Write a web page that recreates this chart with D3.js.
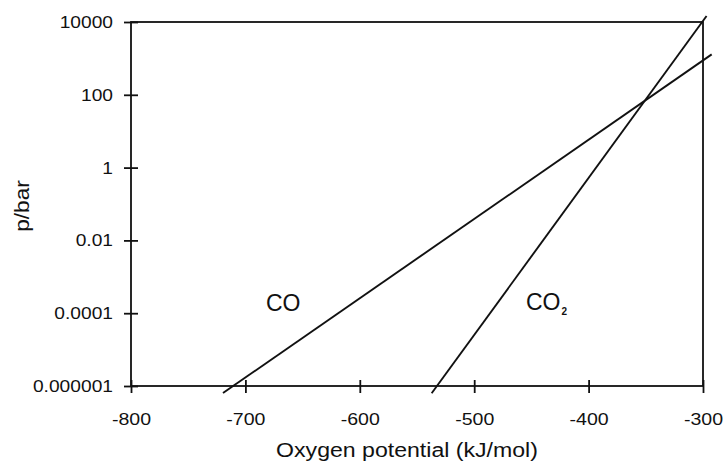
<!DOCTYPE html>
<html>
<head>
<meta charset="utf-8">
<script src="https://cdn.jsdelivr.net/npm/d3@7"></script>
<style>
  body { margin: 0; background: #fff; }
  text { font-family: "Liberation Sans", Arial, sans-serif; fill: #111; }
</style>
</head>
<body>
<div class="chart"></div>
<script>
// oxygen potential vs pressure, straight lines on the log axis
const xTicks = [-800, -700, -600, -500, -400, -300];
const yTicks = [1e4, 1e2, 1, 1e-2, 1e-4, 1e-6];
const yTickLabels = ["10000", "100", "1", "0.01", "0.0001", "0.000001"];

const coX = [-719.6, -292.4];
const coP = [6.4e-7, 1290];
const co2X = [-537.2, -296.9];
const co2P = [6.3e-7, 14600];

const w = 728;
const h = 463;
const padL = 131, padR = 703, padT = 22, padB = 386;

let svg = d3.
select(".chart").
append("svg").
attr("width", w).
attr("height", h);

const xScale = d3.scaleLinear().domain([-800, -300]).range([padL, padR]);
const yScale = d3.scaleLog().domain([1e-6, 1e4]).range([padB, padT]);

// frame
svg.append("rect").
attr("x", padL).
attr("y", padT).
attr("width", padR - padL).
attr("height", padB - padT).
attr("fill", "none").
attr("stroke", "#111").
attr("stroke-width", 1.8);

// plain hyphen like the original, not d3's unicode minus
const xAxis = d3.axisBottom(xScale).tickValues(xTicks).tickSize(7).tickFormat(d => String(d));
const yAxis = d3.axisLeft(yScale).tickValues(yTicks).tickSize(7).tickPadding(11).
tickFormat((d, i) => yTickLabels[i]);

let gx = svg.append("g").
attr("transform", `translate(0,${padB})`).
call(xAxis);
gx.select(".domain").remove();
gx.selectAll("line").attr("y1", -6).attr("y2", 7).attr("stroke", "#111").attr("stroke-width", 1.8);
gx.selectAll("text").
attr("y", 39).attr("dy", null).
attr("font-size", 17).
attr("font-family", null).
attr("transform", "scale(1.15,1)").
style("fill", "#111");

let gy = svg.append("g").
attr("transform", `translate(${padL},0)`).
call(yAxis);
gy.select(".domain").remove();
gy.selectAll("line").attr("x1", -7).attr("x2", 7).attr("stroke", "#111").attr("stroke-width", 1.8);
gy.selectAll("text").
attr("font-size", 17).
attr("font-family", null).
attr("x", -18 / 1.13).
attr("transform", "scale(1.13,1)").
style("fill", "#111");

// lines
const line = d3.line().x(d => xScale(d[0])).y(d => yScale(d[1]));

svg.append("path").
datum(coX.map((x, i) => [x, coP[i]])).
attr("d", line).
attr("fill", "none").
attr("stroke", "#111").
attr("stroke-width", 1.9);

svg.append("path").
datum(co2X.map((x, i) => [x, co2P[i]])).
attr("d", line).
attr("fill", "none").
attr("stroke", "#111").
attr("stroke-width", 1.9);

// labels
svg.append("text").
attr("x", 266).
attr("y", 311).
attr("font-size", 23).
text("CO");

let co2Label = svg.append("text").
attr("x", 526).
attr("y", 310).
attr("font-size", 23);
co2Label.append("tspan").text("CO");
co2Label.append("tspan").
attr("font-size", 10).
attr("font-weight", "bold").
attr("dx", 1).
attr("dy", 5).
text("2");

svg.append("text").
attr("text-anchor", "middle").
attr("font-size", 21).
attr("transform", `translate(407,457) scale(1.1,1)`).
text("Oxygen potential (kJ/mol)");

svg.append("text").
attr("text-anchor", "middle").
attr("font-size", 19.5).
attr("transform", "translate(29,206) rotate(-90) scale(1.16,1)").
text("p/bar");
</script>
</body>
</html>
